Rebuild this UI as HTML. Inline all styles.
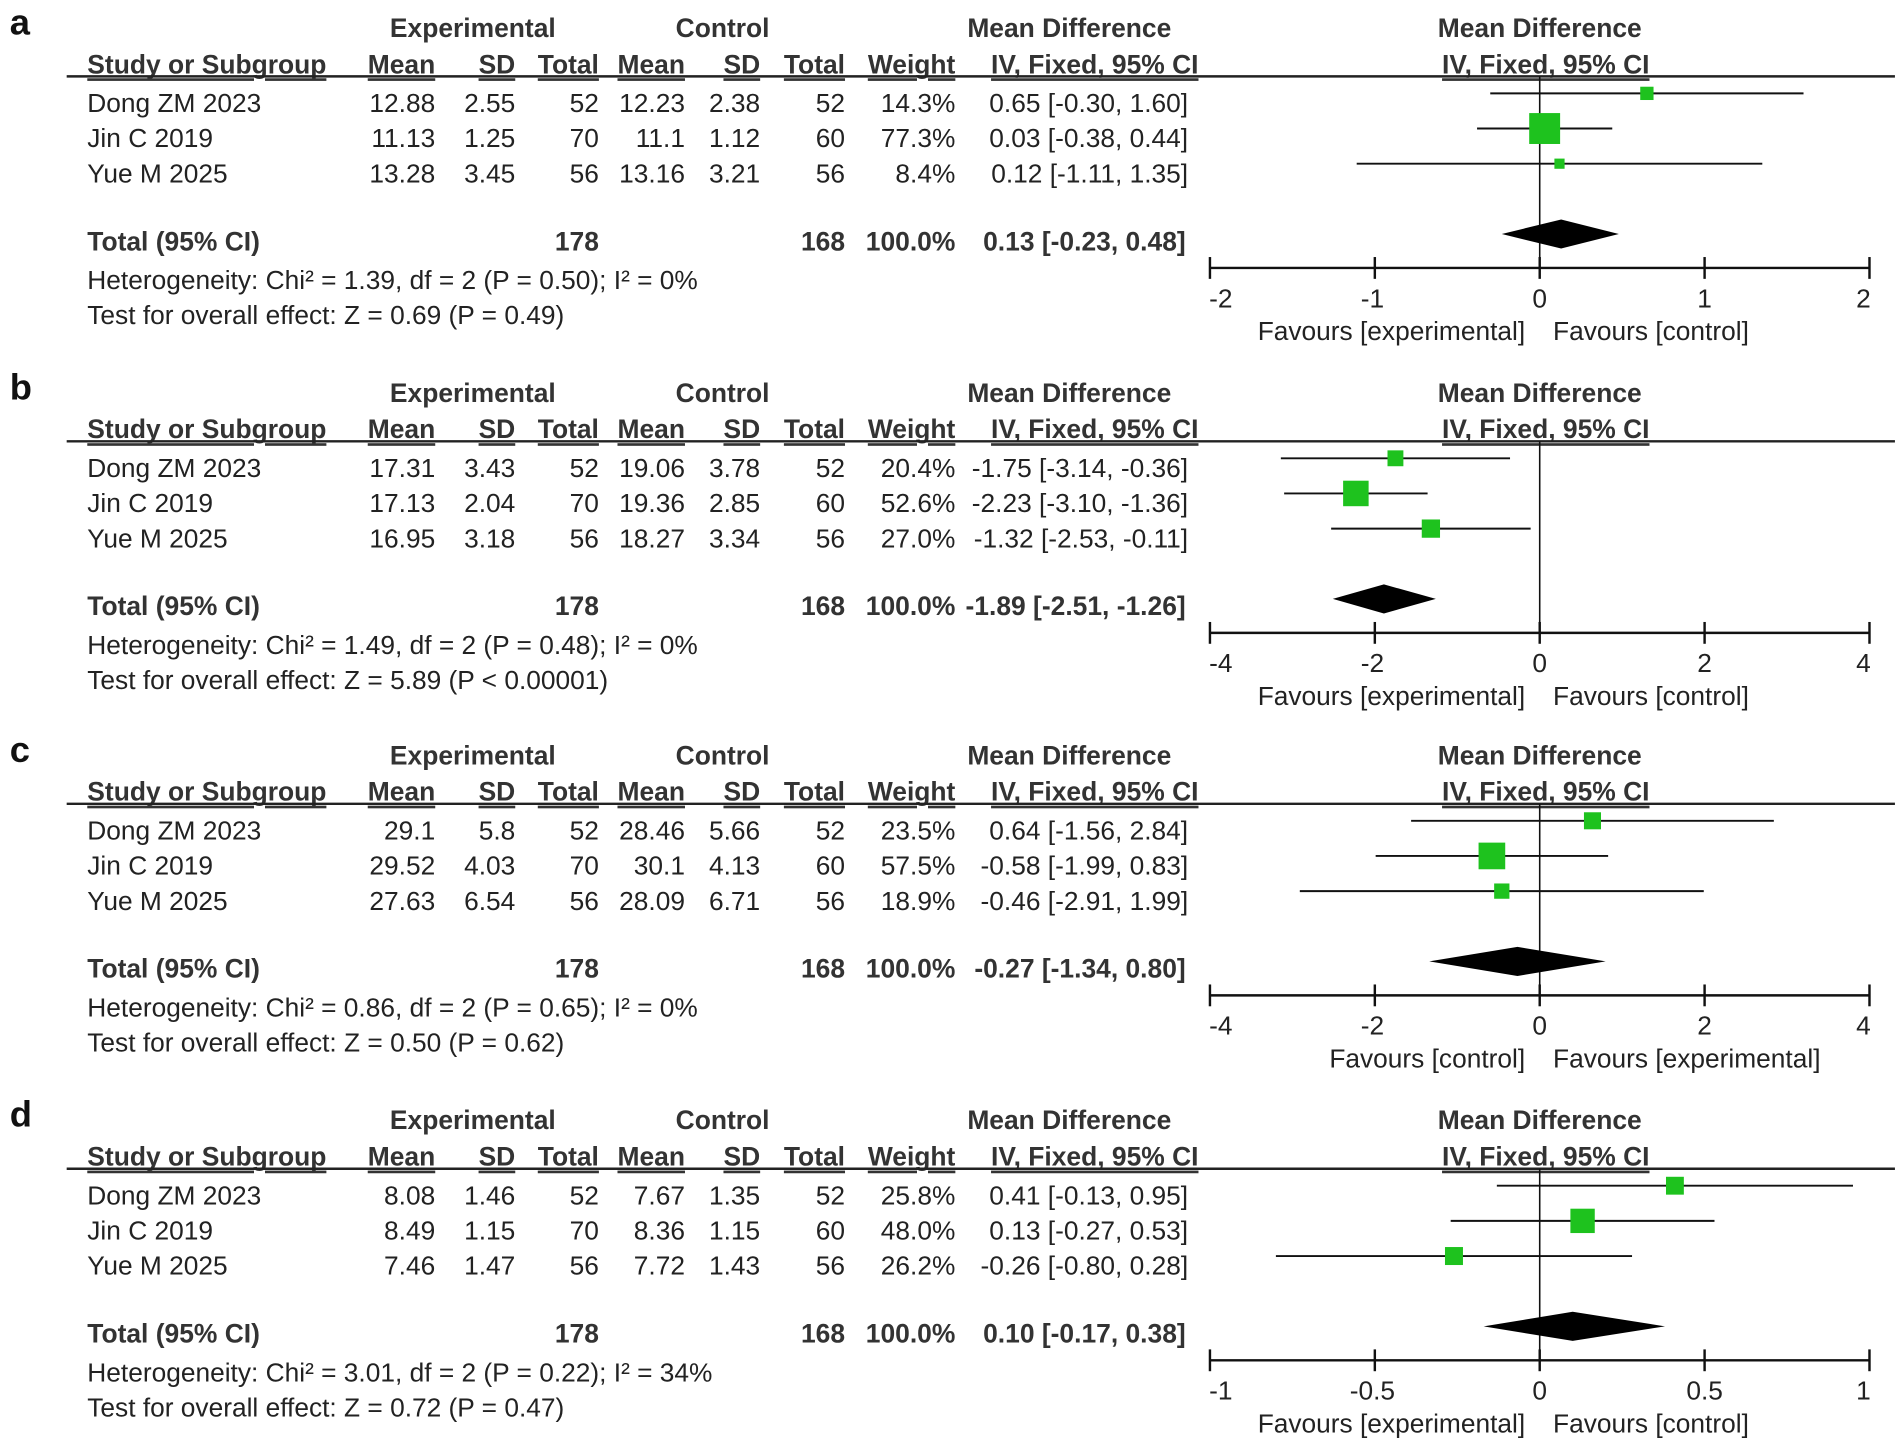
<!DOCTYPE html>
<html><head><meta charset="utf-8"><style>
html,body{margin:0;padding:0;background:#fff;}
svg{display:block;font-family:"Liberation Sans",Arial,sans-serif;}
</style></head>
<body>
<svg id="chart" xmlns="http://www.w3.org/2000/svg" width="1901" height="1447" viewBox="0 0 1568 1193.5"></svg>
<script>
const panelLetters = ['a','b','c','d'];
const panelOffsets = [0, 301, 600, 901];
const studyNames = ['Dong ZM 2023','Jin C 2019','Yue M 2025'];
const expMean = [['12.88','11.13','13.28'],['17.31','17.13','16.95'],['29.1','29.52','27.63'],['8.08','8.49','7.46']];
const expSD = [['2.55','1.25','3.45'],['3.43','2.04','3.18'],['5.8','4.03','6.54'],['1.46','1.15','1.47']];
const expTotal = ['52','70','56'];
const ctlMean = [['12.23','11.1','13.16'],['19.06','19.36','18.27'],['28.46','30.1','28.09'],['7.67','8.36','7.72']];
const ctlSD = [['2.38','1.12','3.21'],['3.78','2.85','3.34'],['5.66','4.13','6.71'],['1.35','1.15','1.43']];
const ctlTotal = ['52','60','56'];
const weights = [[14.3,77.3,8.4],[20.4,52.6,27.0],[23.5,57.5,18.9],[25.8,48.0,26.2]];
const md = [[0.65,0.03,0.12],[-1.75,-2.23,-1.32],[0.64,-0.58,-0.46],[0.41,0.13,-0.26]];
const lo = [[-0.30,-0.38,-1.11],[-3.14,-3.10,-2.53],[-1.56,-1.99,-2.91],[-0.13,-0.27,-0.80]];
const hi = [[1.60,0.44,1.35],[-0.36,-1.36,-0.11],[2.84,0.83,1.99],[0.95,0.53,0.28]];
const totalMd = [0.13,-1.89,-0.27,0.10];
const totalLo = [-0.23,-2.51,-1.34,-0.17];
const totalHi = [0.48,-1.26,0.80,0.38];
const axisMax = [2,4,4,1];
const tickValues = [[-2,-1,0,1,2],[-4,-2,0,2,4],[-4,-2,0,2,4],[-1,-0.5,0,0.5,1]];
const favLeft = ['Favours [experimental]','Favours [experimental]','Favours [control]','Favours [experimental]'];
const favRight = ['Favours [control]','Favours [control]','Favours [experimental]','Favours [control]'];
const hetText = ['Heterogeneity: Chi² = 1.39, df = 2 (P = 0.50); I² = 0%','Heterogeneity: Chi² = 1.49, df = 2 (P = 0.48); I² = 0%','Heterogeneity: Chi² = 0.86, df = 2 (P = 0.65); I² = 0%','Heterogeneity: Chi² = 3.01, df = 2 (P = 0.22); I² = 34%'];
const testText = ['Test for overall effect: Z = 0.69 (P = 0.49)','Test for overall effect: Z = 5.89 (P < 0.00001)','Test for overall effect: Z = 0.50 (P = 0.62)','Test for overall effect: Z = 0.72 (P = 0.47)'];

const svg = document.getElementById('chart');
const NS = 'http://www.w3.org/2000/svg';
function mk(tag, attrs, name, parent){
  const el = document.createElementNS(NS, tag);
  for (const k in attrs) el.setAttribute(k, attrs[k]);
  
  
  (parent||svg).appendChild(el);
  return el;
}
function txt(x,y,s,anchor,bold,name,size,parent){
  const el = mk('text',{x:x,y:y,'text-anchor':anchor||'start','font-size':size||21.7,'font-weight':bold?'bold':'normal',fill:bold?'#333':'#222','dominant-baseline':'central'},name,parent);
  el.textContent = s;
  return el;
}
const X0 = 1270, HALF = 272;
const colRight = [359,425,494,565,627,697,788];
const BS = 21.8;
function fmt(v){ return v.toFixed(2); }

panelLetters.forEach((L,p)=>{
  const oy = panelOffsets[p];
  const g = mk('g',{},'panel-'+L);
  const sx = v => X0 + v/axisMax[p]*HALF;
  txt(8, oy+18, L, 'start', true, 'panel-label', 30, g).setAttribute('fill','#111');
  txt(390, oy+23, 'Experimental','middle',true,'experimental-header',BS,g);
  txt(596, oy+23, 'Control','middle',true,'control-header',BS,g);
  txt(882, oy+23, 'Mean Difference','middle',true,'md-header',BS,g);
  txt(1270, oy+23, 'Mean Difference','middle',true,'md-plot-header',BS,g);
  const h2 = ['Mean','SD','Total','Mean','SD','Total','Weight'];
  txt(72, oy+53, 'Study or Subgroup','start',true,'study-column-header',BS,g).setAttribute('text-decoration','underline');
  h2.forEach((h,i)=>{ txt(colRight[i], oy+53, h,'end',true,'column-header',BS,g).setAttribute('text-decoration','underline'); });
  txt(903, oy+53, 'IV, Fixed, 95% CI','middle',true,'ci-column-header',BS,g).setAttribute('text-decoration','underline');
  txt(1275, oy+53, 'IV, Fixed, 95% CI','middle',true,'plot-ci-header',BS,g).setAttribute('text-decoration','underline');
  mk('line',{x1:55,x2:1563,y1:oy+63,y2:oy+63,stroke:'#222','stroke-width':2},'header-rule',g);
  mk('line',{x1:X0,x2:X0,y1:oy+63,y2:oy+221,stroke:'#111','stroke-width':1.3},'zero-line',g);
  studyNames.forEach((n,i)=>{
    const y = oy+85+i*29;
    txt(72,y,n,'start',false,'study-name',21.7,g);
    const vals=[expMean[p][i],expSD[p][i],expTotal[i],ctlMean[p][i],ctlSD[p][i],ctlTotal[i],weights[p][i].toFixed(1)+'%'];
    vals.forEach((v,j)=>txt(colRight[j],y,v,'end',false,'study-value',21.7,g));
    txt(980,y,fmt(md[p][i])+' ['+fmt(lo[p][i])+', '+fmt(hi[p][i])+']','end',false,'study-ci',21.7,g);
    const cy = oy+77+i*29;
    mk('line',{x1:sx(lo[p][i]),x2:sx(hi[p][i]),y1:cy,y2:cy,stroke:'#111','stroke-width':1.6},'ci-line',g);
    const s = 2.9*Math.sqrt(weights[p][i]);
    mk('rect',{x:sx(md[p][i])-s/2,y:cy-s/2,width:s,height:s,fill:'#1ec21e'},'effect-square',g);
  });
  const ty = oy+199;
  txt(72,ty,'Total (95% CI)','start',true,'total-label',BS,g);
  txt(colRight[2],ty,'178','end',true,'total-experimental',BS,g);
  txt(colRight[5],ty,'168','end',true,'total-control',BS,g);
  txt(colRight[6],ty,'100.0%','end',true,'total-weight',BS,g);
  txt(978,ty,fmt(totalMd[p])+' ['+fmt(totalLo[p])+', '+fmt(totalHi[p])+']','end',true,'total-ci',BS,g);
  const dy = oy+193;
  mk('polygon',{points:[sx(totalLo[p])+','+dy, sx(totalMd[p])+','+(dy-12), sx(totalHi[p])+','+dy, sx(totalMd[p])+','+(dy+12)].join(' '),fill:'#000'},'pooled-diamond',g);
  txt(72,oy+231,hetText[p],'start',false,'heterogeneity-text',21.7,g);
  txt(72,oy+260,testText[p],'start',false,'overall-effect-text',21.7,g);
  const ay = oy+221;
  mk('line',{x1:sx(-axisMax[p]),x2:sx(axisMax[p]),y1:ay,y2:ay,stroke:'#111','stroke-width':2},'x-axis',g);
  const nT = tickValues[p].length;
  tickValues[p].forEach((t,k)=>{
    mk('line',{x1:sx(t),x2:sx(t),y1:ay-9,y2:ay+9,stroke:'#111','stroke-width':2},'x-tick',g);
    const off = k===0 ? 9 : (k===nT-1 ? -5 : (t<0 ? -2 : 0));
    txt(sx(t)+off,ay+25,String(t),'middle',false,'x-tick-label',21.7,g);
  });
  txt(1258,oy+273,favLeft[p],'end',false,'favours-left-label',21.7,g);
  txt(1281,oy+273,favRight[p],'start',false,'favours-right-label',21.7,g);
});
</script>
</body></html>
